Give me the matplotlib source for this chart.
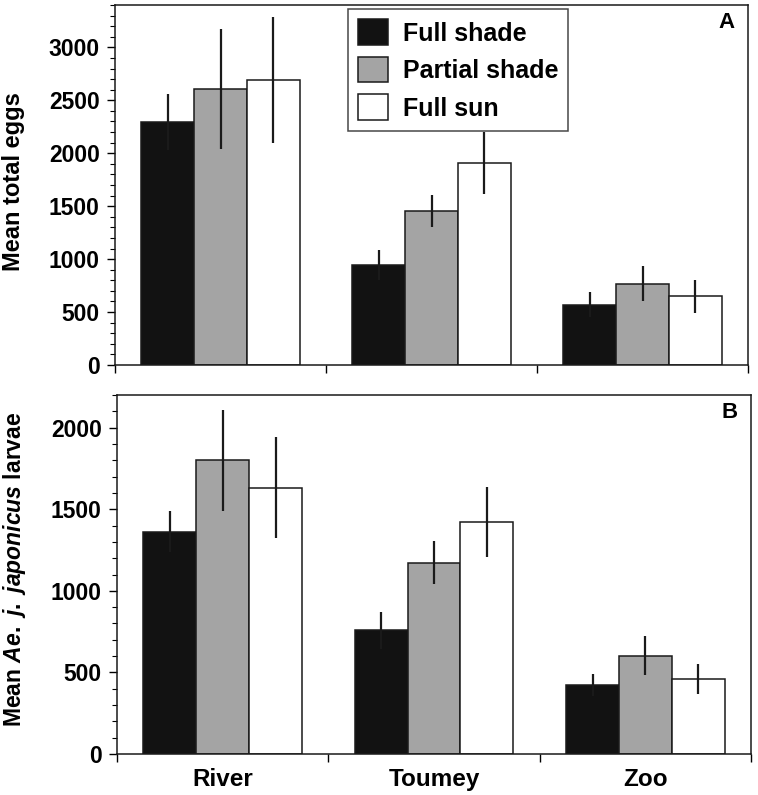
#!/usr/bin/env python3
# -*- coding: utf-8 -*-
"""
Eggs and larvae per site under three shade treatments (panels A and B)
"""
import matplotlib
matplotlib.use("Agg")
import matplotlib.pyplot as plt
from matplotlib.ticker import FixedLocator, MultipleLocator
import numpy as np

plt.rcParams['font.family'] = ['Liberation Sans', 'DejaVu Sans']
plt.rcParams['font.weight'] = 'bold'
plt.rcParams['mathtext.fontset'] = 'custom'
plt.rcParams['mathtext.it'] = 'Liberation Sans:italic:bold'
plt.rcParams['mathtext.rm'] = 'Liberation Sans:bold'

sites = ["River", "Toumey", "Zoo"]
treatments = ["Full shade", "Partial shade", "Full sun"]
colors = ["#121212", "#a4a4a4", "#ffffff"]

# panel A, mean total eggs (rows = treatment, cols = site)
eggs_mean = [[2295, 945, 570],
             [2605, 1455, 768],
             [2690, 1905, 650]]
eggs_err = [[265, 140, 120],
            [565, 152, 167],
            [592, 293, 155]]

# panel B, mean larvae
larvae_mean = [[1362, 758, 423],
               [1799, 1172, 603],
               [1632, 1423, 460]]
larvae_err = [[126, 113, 70],
              [309, 133, 120],
              [308, 213, 91]]

W, H = 758, 795
fig = plt.figure(figsize=(W / 100, H / 100), dpi=100)


def px_axes(left, top, right, bottom):
    """axes from pixel box (origin top left)"""
    return fig.add_axes([left / W, 1 - bottom / H, (right - left) / W, (bottom - top) / H])


def bar_panel(ax, means, errs, ymax, letter, ylabel, show_sites, label_size=17):
    x = np.arange(len(sites))
    width = 0.25
    for i, name in enumerate(treatments):
        xi = x + (i - 1) * width
        ax.bar(xi, means[i], width, color=colors[i], edgecolor='#1a1a1a',
               linewidth=1.1, label=name, zorder=2)
        ax.errorbar(xi, means[i], yerr=errs[i], fmt='none', ecolor='#1a1a1a',
                    elinewidth=1.6, capsize=0, zorder=3)
    ax.set_xlim(-0.5, 2.5)
    ax.set_ylim(0, ymax)
    ax.yaxis.set_major_locator(MultipleLocator(500))
    ax.yaxis.set_minor_locator(MultipleLocator(100))
    ax.xaxis.set_major_locator(FixedLocator(x))
    ax.xaxis.set_minor_locator(FixedLocator([-0.5, 0.5, 1.5, 2.5]))
    ax.tick_params(axis='y', which='major', length=6, width=1.0, labelsize=16.5, pad=5)
    ax.tick_params(axis='y', which='minor', length=3.5, width=0.8)
    ax.tick_params(axis='x', which='major', length=0, labelsize=17.5, pad=10)
    ax.tick_params(axis='x', which='minor', length=6, width=1.0)
    if show_sites:
        ax.set_xticklabels(sites)
    else:
        ax.set_xticklabels([])
    for s in ax.spines.values():
        s.set_linewidth(1.1)
        s.set_color('#1a1a1a')
    ax.text(0.966, 0.95, letter, transform=ax.transAxes, ha='center', va='center',
            fontsize=16, fontweight='bold')
    ax.set_ylabel(ylabel, fontsize=label_size, fontweight='bold')


axA = px_axes(115, 5, 748, 365)
bar_panel(axA, eggs_mean, eggs_err, 3400, "A", "Mean total eggs", False)
# label anchor is its right edge after rotation
axA.yaxis.set_label_coords(-(115 - 25) / 633, 0.51)

axB = px_axes(117, 395, 751, 754)
bar_panel(axB, larvae_mean, larvae_err, 2200, "B",
          r"Mean $\mathit{Ae.\ j.\ japonicus}$ larvae", True, label_size=16.5)
axB.yaxis.set_label_coords(-(117 - 28) / 634, 0.515)

leg = axA.legend(loc='upper left', bbox_to_anchor=(347.7 / W, 1 - 9.3 / H),
                 bbox_transform=fig.transFigure, borderaxespad=0, fontsize=18,
                 frameon=True, fancybox=False, handlelength=1.2, handleheight=1.2,
                 handletextpad=0.6, labelspacing=0.45, borderpad=0.4)
leg.get_frame().set_edgecolor('#1a1a1a')
leg.get_frame().set_linewidth(1.1)

plt.savefig("out.png", dpi=100)
